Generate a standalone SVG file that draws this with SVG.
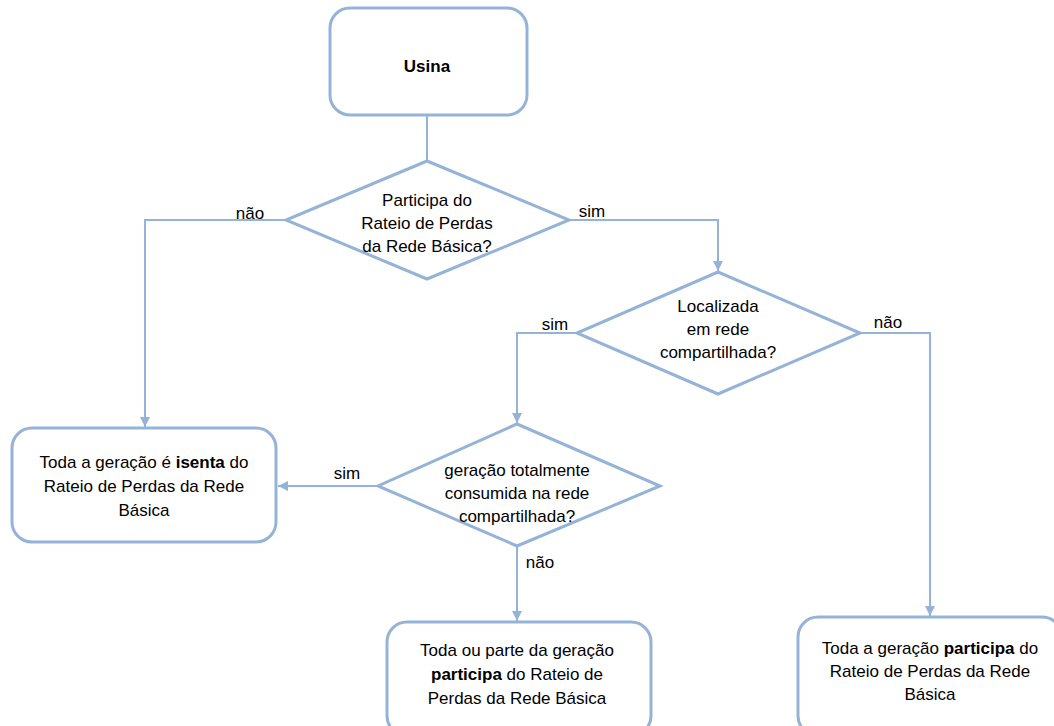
<svg xmlns="http://www.w3.org/2000/svg" width="1054" height="726" viewBox="0 0 1054 726">
<defs>
<marker id="arr" viewBox="0 0 10 10" refX="10" refY="5" markerWidth="10" markerHeight="10" markerUnits="userSpaceOnUse" orient="auto">
<path d="M0,0 L10,5 L0,10 z" fill="#95B3D7"/>
</marker>
<style>
.shape{fill:#fff;stroke:#95B3D7;stroke-width:3}
.conn{fill:none;stroke:#95B3D7;stroke-width:2}
text{font-family:"Liberation Sans",Arial,sans-serif;font-size:17px;fill:#000;text-anchor:middle}
.b{font-weight:bold}
</style>
</defs>
<rect width="1054" height="726" fill="#fff"/>
<g id="connectors">
<path class="conn" d="M427,116 V161"/>
<path class="conn" d="M286,220 H145 V427" marker-end="url(#arr)"/>
<path class="conn" d="M569,220 H718 V271" marker-end="url(#arr)"/>
<path class="conn" d="M577,333 H517 V423" marker-end="url(#arr)"/>
<path class="conn" d="M860,333 H930 V616" marker-end="url(#arr)"/>
<path class="conn" d="M378,486 H278" marker-end="url(#arr)"/>
<path class="conn" d="M517,546 V621" marker-end="url(#arr)"/>
<text x="250" y="219">não</text>
<text x="592" y="217">sim</text>
<text x="555" y="330">sim</text>
<text x="888" y="328">não</text>
<text x="347" y="479">sim</text>
<text x="540" y="568">não</text>
</g>
<g id="usina">
<rect class="shape" x="330" y="8" width="197" height="107" rx="20"/>
<text class="b" x="427" y="72">Usina</text>
</g>
<g id="d1">
<path class="shape" d="M427,161 L569,220 L427,279 L286,220 Z"/>
<text x="427" y="206">Participa do</text>
<text x="427" y="229">Rateio de Perdas</text>
<text x="427" y="252">da Rede Básica?</text>
</g>
<g id="d2">
<path class="shape" d="M718,272 L860,333 L718,394 L577,333 Z"/>
<text x="718" y="312">Localizada</text>
<text x="718" y="335">em rede</text>
<text x="718" y="358">compartilhada?</text>
</g>
<g id="d3">
<path class="shape" d="M517,424 L660,486 L517,546 L378,486 Z"/>
<text x="517" y="476">geração totalmente</text>
<text x="517" y="499">consumida na rede</text>
<text x="517" y="522">compartilhada?</text>
</g>
<g id="isenta">
<rect class="shape" x="12" y="428" width="264" height="114" rx="20"/>
<text x="144" y="468">Toda a geração é <tspan class="b">isenta</tspan> do</text>
<text x="144" y="492">Rateio de Perdas da Rede</text>
<text x="144" y="516">Básica</text>
</g>
<g id="parte">
<rect class="shape" x="387" y="622" width="264" height="114" rx="20"/>
<text x="517" y="656">Toda ou parte da geração</text>
<text x="517" y="680"><tspan class="b">participa</tspan> do Rateio de</text>
<text x="517" y="704">Perdas da Rede Básica</text>
</g>
<g id="participa">
<rect class="shape" x="798" y="617" width="264" height="119" rx="20"/>
<text x="930" y="654">Toda a geração <tspan class="b">participa</tspan> do</text>
<text x="930" y="677">Rateio de Perdas da Rede</text>
<text x="930" y="700">Básica</text>
</g>
</svg>
